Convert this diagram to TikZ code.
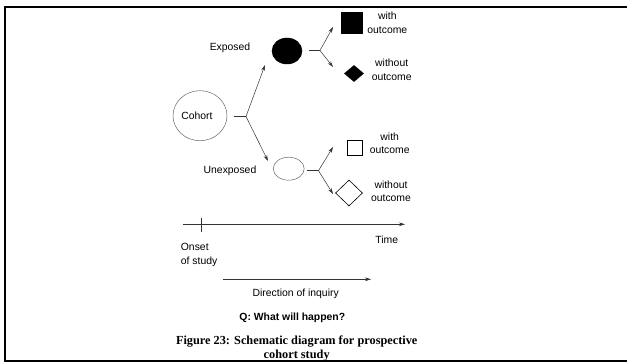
\documentclass[tikz,border=0pt]{standalone}
\usepackage{fontspec}
\setmainfont{Liberation Serif}
\setsansfont{Liberation Sans}
\usetikzlibrary{shapes.geometric,arrows.meta}

\begin{document}
\begin{tikzpicture}[x=1pt,y=-1pt,
  lbl/.style={font=\sffamily\fontsize{10.4}{13.5}\selectfont,align=center,inner sep=0pt},
  link/.style={black!80,line width=0.5pt},
  arr/.style={link,-{Stealth[length=6pt,width=3.6pt]}},
  grp/.style={shape=ellipse,inner sep=0pt,draw=black!60,line width=0.5pt}]
\useasboundingbox (0,0) rectangle (627,363);
\fill[white] (0,0) rectangle (627,363);
\node[grp,minimum width=54,minimum height=50] (cohort) at (200,115.7) {};
\node[lbl] at (197,116) {Cohort};
\node[grp,fill=black,draw=black,minimum width=30,minimum height=26] (exp) at (287,51) {};
\node[grp,minimum width=31,minimum height=23] (unexp) at (288.7,168.7) {};
\node[lbl] (explbl) at (230,48.3) {Exposed};
\node[lbl] (unexplbl) at (230,170.7) {Unexposed};
\node[fill=black,inner sep=0pt,minimum size=22] (expwith) at (351.7,23.5) {};
\node[diamond,fill=black,inner sep=0pt,minimum width=20,minimum height=17] (expwo) at (354,73.5) {};
\node[draw=black,line width=0.6pt,inner sep=0pt,minimum size=15] (unexpwith) at (354.7,148) {};
\node[diamond,draw=black,line width=0.6pt,inner sep=0pt,minimum width=27,minimum height=26] (unexpwo) at (349,193) {};
\node[lbl] (t1) at (387.3,22.7) {with\\outcome};
\node[lbl] (t2) at (391.7,69.7) {without\\outcome};
\node[lbl] (t3) at (389.7,143.3) {with\\outcome};
\node[lbl] (t4) at (391,191.5) {without\\outcome};
\coordinate (b0) at (246,116.5);
\coordinate (b1) at (320,50.5);
\coordinate (b2) at (318.5,170.7);
\coordinate (e0) at (265,65);
\coordinate (e1) at (268,161);
\coordinate (e2) at (333,27);
\coordinate (e3) at (333,67);
\coordinate (e4) at (333,147);
\coordinate (e5) at (333,194);
\draw[link] ([xshift=7pt]cohort.east|-b0) -- (b0);
\draw[arr] (b0) -- (e0);
\draw[arr] (b0) -- (e1);
\draw[link] ([xshift=7pt]exp.east|-b1) -- (b1);
\draw[arr] (b1) -- (e2);
\draw[arr] (b1) -- (e3);
\draw[link] ([xshift=3pt]unexp.east|-b2) -- (b2);
\draw[arr] (b2) -- (e4);
\draw[arr] (b2) -- (e5);
\coordinate (t0) at (183,224.3);
\coordinate (tend) at (405,224.3);
\draw[arr] (t0) -- (tend);
\draw[link] (201,218.3) -- (201,232.3);
\node[lbl] (time) at (386.7,240) {Time};
\node[lbl,anchor=west,align=left] (onset) at (180.7,255) {Onset\\of study};
\coordinate (d0) at (223,279.3);
\coordinate (dend) at (371,279.3);
\draw[arr] (d0) -- (dend);
\node[lbl] (dir) at (295.7,294.3) {Direction of inquiry};
\node[lbl,font=\sffamily\bfseries\fontsize{10.4}{13.5}\selectfont] (q) at (292.3,318.3) {Q: What will happen?};
\node[inner sep=0pt,align=center,font=\rmfamily\bfseries\fontsize{12.3}{14}\selectfont] (cap) at (296.7,348.7) {Figure 23: Schematic diagram for prospective\\cohort study};
\draw[line width=2pt] (627,7) -- (5,7) -- (5,361.5) -- (627,361.5);
\end{tikzpicture}
\end{document}
